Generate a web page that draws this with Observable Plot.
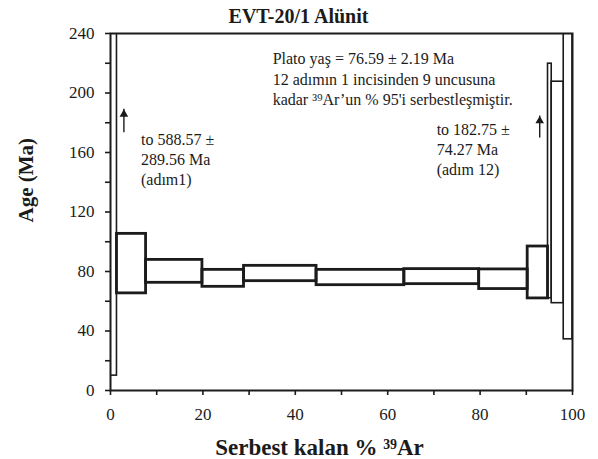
<!DOCTYPE html>
<html>
<head>
<meta charset="utf-8">
<script src="https://cdn.jsdelivr.net/npm/d3@7"></script>
<script src="https://cdn.jsdelivr.net/npm/@observablehq/plot@0.6"></script>
<style>
  html, body { margin: 0; padding: 0; background: #fff; }
  #chart svg, #chart svg text { font-family: "Liberation Serif", "DejaVu Serif", serif !important; }
</style>
</head>
<body>
<div id="chart"></div>
<script>
// Step heating data
const steps = [1, 2, 3, 4, 5, 6, 7, 8, 9, 10, 11, 12];
const cumStart = [0, 1.4, 7.7, 19.9, 28.9, 44.6, 63.6, 79.8, 90.3, 94.7, 95.5, 98.1];
const cumEnd   = [1.4, 7.7, 19.9, 28.9, 44.6, 63.6, 79.8, 90.3, 94.7, 95.5, 98.1, 100];
const ageLow   = [10, 65.3, 72.4, 69.7, 73.5, 70.8, 71.5, 68.2, 61.9, 62, 58.7, 34.4];
const ageHigh  = [240, 105.3, 87.8, 81.1, 83.8, 81.1, 81.6, 81.4, 96.8, 219.7, 207.6, 240];
const inPlateau = [false, true, true, true, true, true, true, true, true, false, false, false];

const xTicks = [0, 10, 20, 30, 40, 50, 60, 70, 80, 90, 100];
const yTicks = [0, 20, 40, 60, 80, 100, 120, 140, 160, 180, 200, 220, 240];

const title = "EVT-20/1 Alünit";
const xLabel = "Serbest kalan % ³⁹Ar";
const yLabel = "Age (Ma)";
const plateauText = "Plato yaş = 76.59 ± 2.19 Ma\n12 adımın 1 incisinden 9 uncusuna\nkadar ³⁹Ar’un % 95'i serbestleşmiştir.";
const step1Text = "to 588.57 ±\n289.56 Ma\n(adım1)";
const step12Text = "to 182.75 ±\n74.27 Ma\n(adım 12)";

// arrows pointing up (off-scale steps)
const arrowX = [2.9, 92.9];
const arrowFrom = [173.3, 169.7];
const arrowTo = [189, 184.5];

const data = steps.map((s, i) => ({
  step: s, x1: cumStart[i], x2: cumEnd[i], y1: ageLow[i], y2: ageHigh[i], plateau: inPlateau[i]
}));
const arrows = arrowX.map((x, i) => ({x, y1: arrowFrom[i], y2: arrowTo[i]}));

const ink = "#1b1b1b";
const serif = "Liberation Serif";
const chart = Plot.plot({
  width: 598,
  height: 459,
  marginLeft: 110,
  marginRight: 26,
  marginTop: 33,
  marginBottom: 69,
  x: {domain: [0, 100]},
  y: {domain: [0, 240]},
  style: {fontFamily: serif, background: "#fff", color: ink},
  marks: [
    Plot.rect(data.filter(d => !d.plateau), {x1: "x1", x2: "x2", y1: "y1", y2: "y2", fill: "none", stroke: ink, strokeWidth: 1.6, clip: true}),
    Plot.rect(data.filter(d => d.plateau), {x1: "x1", x2: "x2", y1: "y1", y2: "y2", fill: "none", stroke: ink, strokeWidth: 2.8, clip: true}),
    Plot.frame({stroke: ink, strokeWidth: 2}),
    Plot.axisX({ticks: xTicks, tickFormat: d => d % 20 === 0 ? d : "", tickSize: 5, tickPadding: 12, fontSize: 17, fontFamily: serif, label: null, strokeWidth: 1.6}),
    Plot.axisY({ticks: yTicks, tickFormat: d => d % 40 === 0 ? d : "", tickSize: 5, tickPadding: 11, fontSize: 17, fontFamily: serif, label: null, strokeWidth: 1.6}),
    Plot.ruleX(arrows, {x: "x", y1: "y1", y2: "y2", stroke: ink, strokeWidth: 1.4}),
    Plot.dot(arrows, {x: "x", y: "y2", symbol: "triangle", r: 3.2, fill: ink, stroke: "none", dy: 4.8}),
    Plot.text([plateauText], {x: 35.1, y: 229.2, textAnchor: "start", lineAnchor: "top", fontSize: 16, lineHeight: 1.28, fontFamily: serif, fill: ink}),
    Plot.text([step1Text], {x: 6.6, y: 174.7, textAnchor: "start", lineAnchor: "top", fontSize: 16, lineHeight: 1.25, fontFamily: serif, fill: ink}),
    Plot.text([step12Text], {x: 70.6, y: 181.4, textAnchor: "start", lineAnchor: "top", fontSize: 16, lineHeight: 1.25, fontFamily: serif, fill: ink}),
    Plot.text([title], {frameAnchor: "top", dx: -43, dy: -11, lineAnchor: "bottom", fontSize: 20, fontWeight: "bold", fontFamily: serif, fill: ink}),
    Plot.text([xLabel], {frameAnchor: "bottom", dx: -22, dy: 64, lineAnchor: "bottom", fontSize: 23, fontWeight: "bold", fontFamily: serif, fill: ink}),
    Plot.text([yLabel], {frameAnchor: "left", dx: -84, dy: 10.5, rotate: -90, lineAnchor: "middle", fontSize: 21, fontWeight: "bold", fontFamily: serif, fill: ink})
  ]
});
document.getElementById("chart").appendChild(chart);
</script>
</body>
</html>
